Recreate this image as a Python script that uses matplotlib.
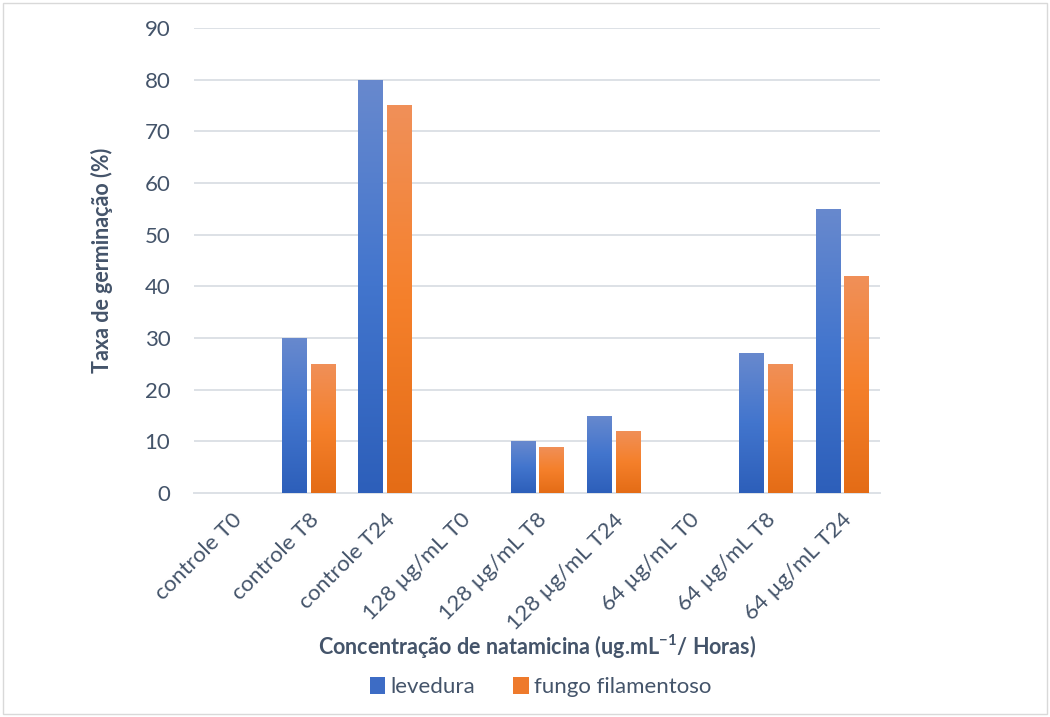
import numpy as np
import matplotlib.pyplot as plt
from matplotlib.patches import Rectangle, Patch
from matplotlib.colors import LinearSegmentedColormap

categories = ['controle T0', 'controle T8', 'controle T24', '128 µg/mL T0', '128 µg/mL T8',
              '128 µg/mL T24', '64 µg/mL T0', '64 µg/mL T8', '64 µg/mL T24']
levedura = [0, 30, 80, 0, 10, 15, 0, 27, 55]
fungo = [0, 25, 75, 0, 9, 12, 0, 25, 42]

plt.rcParams['font.family'] = ['Lato', 'DejaVu Sans']
plt.rcParams['mathtext.fontset'] = 'custom'
plt.rcParams['mathtext.rm'] = 'Lato'
plt.rcParams['mathtext.bf'] = 'Lato:bold'

fig = plt.figure(figsize=(10.5, 7.17), dpi=100)
ax = fig.add_axes([0.1848, 0.3124, 0.6533, 0.6486])

x = np.arange(len(categories))
w = 0.315
gap = 0.03
b1 = ax.bar(x - w / 2 - gap, levedura, w, color='#4472c4', zorder=2)
b2 = ax.bar(x + w / 2 + gap, fungo, w, color='#ed7d31', zorder=2)


def shade(bars, colors):
    cmap = LinearSegmentedColormap.from_list('g', colors)
    grad = np.linspace(0, 1, 256).reshape(-1, 1)
    for b in bars:
        h = b.get_height()
        if h <= 0:
            continue
        x0 = b.get_x()
        im = ax.imshow(grad, cmap=cmap, origin='lower', aspect='auto',
                       extent=[x0, x0 + b.get_width(), 0, h], zorder=3)
        im.set_clip_path(b)


# bottom -> top
shade(b1, ['#2d5fba', '#4275cd', '#6889ce'])
shade(b2, ['#e46c16', '#f5802b', '#f09059'])

ax.set_xlim(-0.5, len(categories) - 0.5)
ax.set_ylim(0, 90)
ax.set_yticks(range(0, 91, 10))
ax.grid(axis='y', color='#dde1e6', linewidth=1.4, zorder=0)
ax.set_axisbelow(True)
for s in ['top', 'right', 'left']:
    ax.spines[s].set_visible(False)
ax.spines['bottom'].set_color('#dde1e6')
ax.spines['bottom'].set_linewidth(1.4)
ax.tick_params(length=0, colors='#44546a', labelsize=16)
ax.tick_params(axis='y', pad=17)
ax.set_xticks(x)
ax.set_xticklabels(categories, rotation=45, ha='right', rotation_mode='anchor')
ax.tick_params(axis='x', pad=12)

ax.set_ylabel('Taxa de germinação (%)', fontsize=15.5, fontweight='bold', color='#44546a')
ax.yaxis.set_label_coords(-0.118, 0.5)
ax.set_xlabel(r'Concentração de natamicina (ug.mL$^{\mathbf{-1}}$/ Horas)', fontsize=15.5,
              fontweight='bold', color='#44546a')
ax.xaxis.set_label_coords(0.5, -0.3)

handles = [Patch(facecolor='#3d6cc5'), Patch(facecolor='#ee7a2c')]
fig.legend(handles, ['levedura', 'fungo filamentoso'], loc='center', bbox_to_anchor=(0.515, 0.042),
           ncol=2, frameon=False, fontsize=16, handlelength=0.7, handleheight=0.85,
           handletextpad=0.25, columnspacing=1.7, labelcolor='#44546a')

fig.add_artist(Rectangle((0.003, 0.004), 0.994, 0.992, transform=fig.transFigure,
                         fill=False, edgecolor='#d9d9d9', linewidth=1))

fig.savefig('out.png', dpi=100)
